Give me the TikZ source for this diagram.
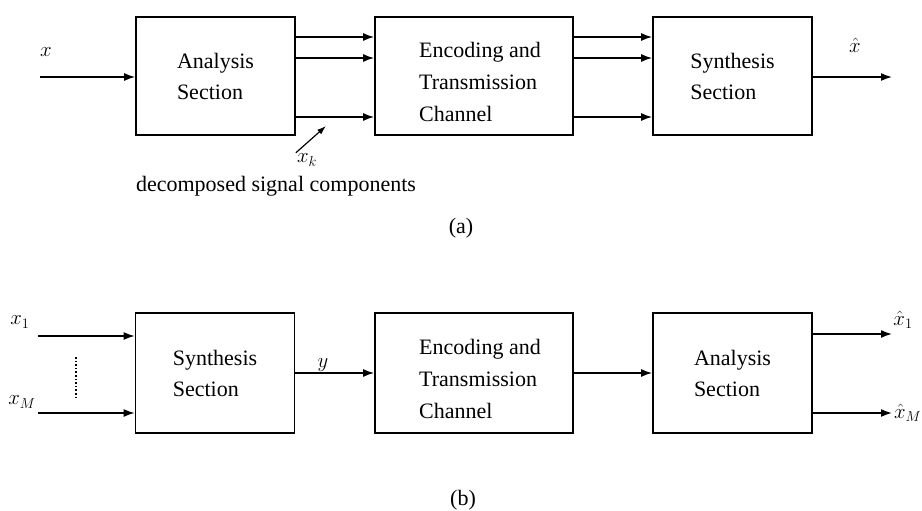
\documentclass[tikz,border=0pt]{standalone}
\usepackage{fontspec}
\setmainfont{Liberation Serif}
\usetikzlibrary{arrows.meta}
\begin{document}
\begin{tikzpicture}[x=1pt,y=-1pt,
  blk/.style={draw,line width=1.6pt,minimum width=159pt,minimum height=118pt,align=left,inner sep=0pt,font=\fontsize{22}{31}\selectfont},
  chan/.style={blk,minimum width=198pt},
  arr/.style={line width=1.6pt,-{Latex[length=11pt,width=8pt]}},
  ln/.style={line width=1.6pt},
  lbl/.style={font=\fontsize{22}{26}\selectfont,inner sep=1pt}]
\useasboundingbox (0,0) rectangle (922,511);
% ---------- (a) ----------
\node[blk] (ana) at (215.5,76) {Analysis\\Section};
\node[chan] (cha) at (474,76) {};
\node[font=\fontsize{22}{32}\selectfont,align=left] (chat) at (480,82) {Encoding and\\Transmission\\Channel};
\node[blk] (syna) at (732.5,76) {Synthesis\\Section};
\coordinate (xin) at (40,77);
\node[lbl] (xl) at (46,52) {$x$};
\draw[arr] (xin) -- (ana.west |- xin);
\draw[arr] (ana.east |- 0,37) -- (cha.west |- 0,37);
\draw[arr] (ana.east |- 0,58) -- (cha.west |- 0,58);
\draw[arr] (ana.east |- 0,117) -- (cha.west |- 0,117);
\draw[arr] (cha.east |- 0,37) -- (syna.west |- 0,37);
\draw[arr] (cha.east |- 0,58) -- (syna.west |- 0,58);
\draw[arr] (cha.east |- 0,117) -- (syna.west |- 0,117);
\coordinate (xout) at (892,77);
\draw[arr] (syna.east |- xout) -- (xout);
\node[lbl] (xhat) at (855,45) {$\hat{x}$};
\node[lbl] (xk) at (307,160) {$x_k$};
\coordinate (xkt) at (326,126);
\draw[line width=1.2pt,-{Latex[length=9pt,width=6pt]}] (xk.north west) -- (xkt);
\node[lbl] (dec) at (276,186) {decomposed signal components};
\node[lbl] (capa) at (461,228) {(a)};
% ---------- (b) ----------
\node[blk,minimum height=120pt] (synb) at (215,373) {Synthesis\\Section};
\node[chan,minimum height=120pt] (chb) at (474,373) {};
\node[font=\fontsize{22}{32}\selectfont,align=left] (chbt) at (480,379) {Encoding and\\Transmission\\Channel};
\node[blk,minimum height=120pt] (anab) at (732.5,373) {Analysis\\Section};
\coordinate (x1in) at (38,336);
\coordinate (xMin) at (38,413);
\node[lbl] (x1) at (20,322) {$x_1$};
\node[lbl] (xM) at (22,402) {$x_M$};
\draw[arr] (x1in) -- (synb.west |- x1in);
\draw[arr] (xMin) -- (synb.west |- xMin);
\coordinate (dt) at (76,357);
\coordinate (db) at (76,398);
\draw[line width=1.6pt,dotted] (dt) -- (db);
\draw[arr] (synb.east |- 0,373) -- node[lbl,above,pos=0.35] {$y$} (chb.west |- 0,373);
\draw[arr] (chb.east |- 0,373) -- (anab.west |- 0,373);
\coordinate (o1) at (892,334);
\coordinate (oM) at (892,413);
\draw[arr] (anab.east |- o1) -- (o1);
\draw[arr] (anab.east |- oM) -- (oM);
\node[lbl] (xh1) at (903,320) {$\hat{x}_1$};
\node[lbl,anchor=west] (xhM) at (893,413) {$\hat{x}_M$};
\node[lbl] (capb) at (463,500) {(b)};
\end{tikzpicture}
\end{document}
